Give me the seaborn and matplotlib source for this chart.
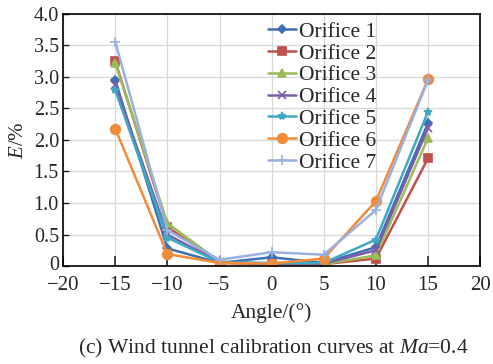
import numpy as np
import pandas as pd
import seaborn as sns
import matplotlib
matplotlib.use("Agg")
import matplotlib.pyplot as plt
from matplotlib.transforms import ScaledTranslation

angles = [-15, -10, -5, 0, 5, 10, 15]
orifice_1 = [2.95, 0.28, 0.05, 0.14, 0.05, 0.30, 2.27]
orifice_2 = [3.25, 0.62, 0.05, 0.03, 0.03, 0.12, 1.71]
orifice_3 = [3.22, 0.68, 0.07, 0.03, 0.03, 0.17, 2.03]
orifice_4 = [2.87, 0.50, 0.06, 0.04, 0.04, 0.25, 2.19]
orifice_5 = [2.79, 0.45, 0.06, 0.05, 0.05, 0.42, 2.45]
orifice_6 = [2.18, 0.19, 0.05, 0.04, 0.12, 1.03, 2.96]
orifice_7 = [3.56, 0.57, 0.10, 0.22, 0.18, 0.89, 2.95]
series_names = ["Orifice 1", "Orifice 2", "Orifice 3", "Orifice 4",
                "Orifice 5", "Orifice 6", "Orifice 7"]
x_ticks = [-20, -15, -10, -5, 0, 5, 10, 15, 20]
y_ticks = [0, 0.5, 1.0, 1.5, 2.0, 2.5, 3.0, 3.5, 4.0]
y_tick_labels = ["0", "0.5", "1.0", "1.5", "2.0", "2.5", "3.0", "3.5", "4.0"]

series = [orifice_1, orifice_2, orifice_3, orifice_4, orifice_5, orifice_6, orifice_7]
rows = []
for name, vals in zip(series_names, series):
    for a, v in zip(angles, vals):
        rows.append({"Angle": a, "E": v, "Series": name})
df = pd.DataFrame(rows)

sns.set_style("white")
plt.rcParams["font.family"] = ["Liberation Serif", "DejaVu Serif"]
plt.rcParams["mathtext.fontset"] = "custom"
plt.rcParams["mathtext.rm"] = "Liberation Serif"
plt.rcParams["mathtext.it"] = "Liberation Serif:italic"

colors = ["#3F6FB5", "#C0504D", "#9BBB59", "#7A5EA8", "#3EA9C2", "#F28C3A", "#9AB0E0"]
markers = ["D", "s", "^", "x", "*", "o", "+"]
msizes = [4, 6, 6, 6, 6, 7, 7]

fig = plt.figure(figsize=(4.93, 3.64), dpi=100)
ax = fig.add_axes([0.128, 0.269, 0.846, 0.693])

for name, c, m, ms in zip(series_names, colors, markers, msizes):
    sub = df[df["Series"] == name]
    sns.lineplot(data=sub, x="Angle", y="E", ax=ax, color=c, marker=m,
                 markersize=ms, linewidth=1.8, label=name,
                 markeredgecolor=c, markeredgewidth=1.2)

ax.set_xlim(-20, 20)
ax.set_ylim(0, 4.0)
ax.set_xticks(x_ticks)
ax.set_yticks(y_ticks)
ax.set_yticklabels(y_tick_labels)
ax.grid(True, color="#d9d9d9", linewidth=0.9)
ax.set_axisbelow(True)
for s in ax.spines.values():
    s.set_color("black")
    s.set_linewidth(1.2)
ax.tick_params(axis="x", direction="in", length=7, width=1.2, labelsize=15, pad=7, bottom=True)
ax.tick_params(axis="y", direction="in", length=4, width=1.0, labelsize=14.5, pad=3, left=True)
# nudge the "0" y tick label up slightly so it clears the "−20" x label
lbl0 = ax.get_yticklabels()[0]
lbl0.set_transform(lbl0.get_transform() + ScaledTranslation(0, 2 / 72, fig.dpi_scale_trans))
ax.set_xlabel("Angle/(°)", fontsize=15.5, labelpad=6)
ax.set_ylabel("$E$/%", fontsize=15, labelpad=4)

leg = ax.legend(loc="upper left", bbox_to_anchor=(0.46, 1.02), frameon=False,
                fontsize=15.5, handlelength=1.3, handletextpad=0.15,
                labelspacing=0.08, borderaxespad=0.2)

fig.text(0.555, 0.01, "(c) Wind tunnel calibration curves at $Ma$=0.4",
         ha="center", va="bottom", fontsize=15.5)

fig.savefig("out.png", dpi=100)
